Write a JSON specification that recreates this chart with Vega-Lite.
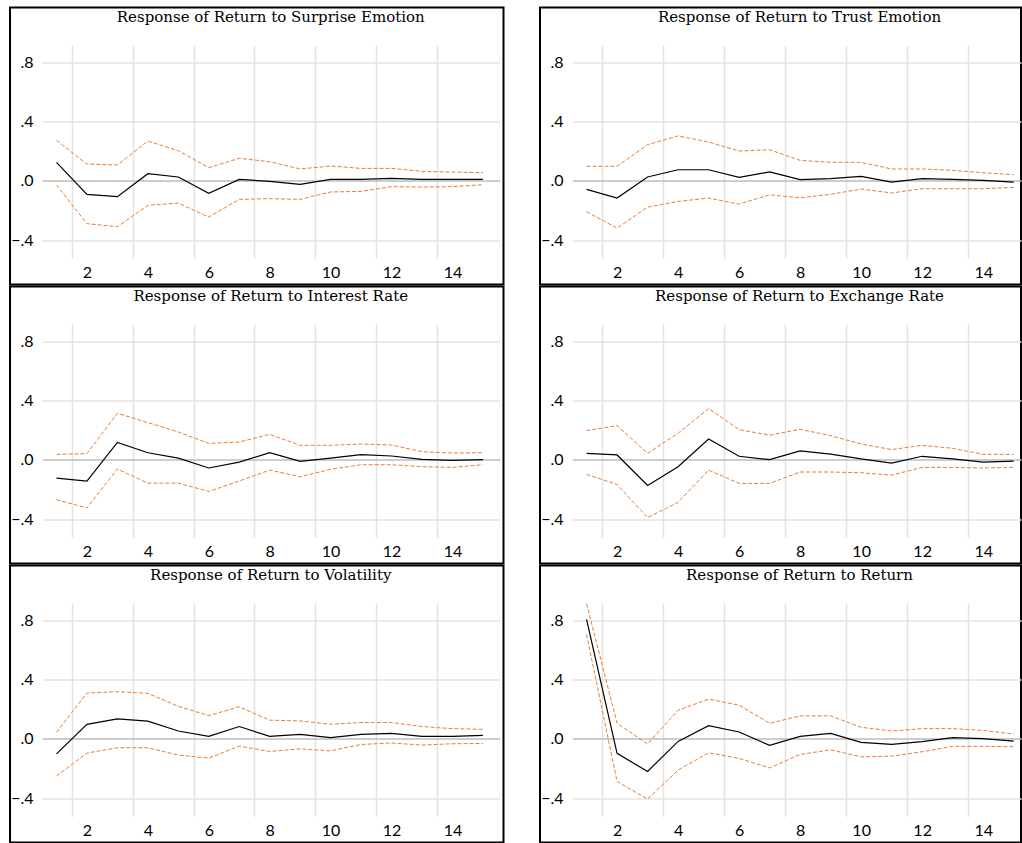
{
"$schema": "https://vega.github.io/schema/vega-lite/v6.json",
"padding": {"left": 9, "top": 6.5, "right": 0, "bottom": 0},
"background": "white",
"columns": 2,
"spacing": {"row": 0, "column": 34},
"data": {"values": [
{"p":"S","h":1,"irf":0.124,"lo":-0.029,"hi":0.272},
{"p":"S","h":2,"irf":-0.092,"lo":-0.290,"hi":0.112},
{"p":"S","h":3,"irf":-0.108,"lo":-0.310,"hi":0.106},
{"p":"S","h":4,"irf":0.047,"lo":-0.166,"hi":0.267},
{"p":"S","h":5,"irf":0.025,"lo":-0.151,"hi":0.202},
{"p":"S","h":6,"irf":-0.085,"lo":-0.245,"hi":0.088},
{"p":"S","h":7,"irf":0.009,"lo":-0.126,"hi":0.151},
{"p":"S","h":8,"irf":-0.004,"lo":-0.121,"hi":0.128},
{"p":"S","h":9,"irf":-0.025,"lo":-0.126,"hi":0.079},
{"p":"S","h":10,"irf":0.009,"lo":-0.076,"hi":0.099},
{"p":"S","h":11,"irf":0.009,"lo":-0.072,"hi":0.083},
{"p":"S","h":12,"irf":0.016,"lo":-0.040,"hi":0.083},
{"p":"S","h":13,"irf":0.009,"lo":-0.043,"hi":0.063},
{"p":"S","h":14,"irf":0.009,"lo":-0.040,"hi":0.058},
{"p":"S","h":15,"irf":0.009,"lo":-0.027,"hi":0.054},
{"p":"T","h":1,"irf":-0.059,"lo":-0.209,"hi":0.097},
{"p":"T","h":2,"irf":-0.117,"lo":-0.320,"hi":0.097},
{"p":"T","h":3,"irf":0.025,"lo":-0.178,"hi":0.243},
{"p":"T","h":4,"irf":0.074,"lo":-0.140,"hi":0.302},
{"p":"T","h":5,"irf":0.074,"lo":-0.117,"hi":0.261},
{"p":"T","h":6,"irf":0.023,"lo":-0.158,"hi":0.200},
{"p":"T","h":7,"irf":0.059,"lo":-0.095,"hi":0.209},
{"p":"T","h":8,"irf":0.007,"lo":-0.115,"hi":0.137},
{"p":"T","h":9,"irf":0.014,"lo":-0.092,"hi":0.124},
{"p":"T","h":10,"irf":0.029,"lo":-0.056,"hi":0.124},
{"p":"T","h":11,"irf":-0.009,"lo":-0.083,"hi":0.079},
{"p":"T","h":12,"irf":0.014,"lo":-0.054,"hi":0.079},
{"p":"T","h":13,"irf":0.009,"lo":-0.054,"hi":0.070},
{"p":"T","h":14,"irf":0.002,"lo":-0.054,"hi":0.054},
{"p":"T","h":15,"irf":-0.009,"lo":-0.045,"hi":0.041},
{"p":"I","h":1,"irf":-0.124,"lo":-0.270,"hi":0.036},
{"p":"I","h":2,"irf":-0.144,"lo":-0.325,"hi":0.041},
{"p":"I","h":3,"irf":0.117,"lo":-0.063,"hi":0.313},
{"p":"I","h":4,"irf":0.047,"lo":-0.158,"hi":0.250},
{"p":"I","h":5,"irf":0.011,"lo":-0.158,"hi":0.187},
{"p":"I","h":6,"irf":-0.056,"lo":-0.214,"hi":0.110},
{"p":"I","h":7,"irf":-0.016,"lo":-0.144,"hi":0.119},
{"p":"I","h":8,"irf":0.047,"lo":-0.070,"hi":0.171},
{"p":"I","h":9,"irf":-0.011,"lo":-0.115,"hi":0.097},
{"p":"I","h":10,"irf":0.011,"lo":-0.065,"hi":0.097},
{"p":"I","h":11,"irf":0.034,"lo":-0.034,"hi":0.106},
{"p":"I","h":12,"irf":0.025,"lo":-0.034,"hi":0.099},
{"p":"I","h":13,"irf":0.002,"lo":-0.047,"hi":0.054},
{"p":"I","h":14,"irf":-0.005,"lo":-0.052,"hi":0.045},
{"p":"I","h":15,"irf":0.000,"lo":-0.034,"hi":0.047},
{"p":"X","h":1,"irf":0.043,"lo":-0.099,"hi":0.196},
{"p":"X","h":2,"irf":0.032,"lo":-0.167,"hi":0.230},
{"p":"X","h":3,"irf":-0.174,"lo":-0.390,"hi":0.043},
{"p":"X","h":4,"irf":-0.047,"lo":-0.288,"hi":0.178},
{"p":"X","h":5,"irf":0.140,"lo":-0.070,"hi":0.345},
{"p":"X","h":6,"irf":0.023,"lo":-0.160,"hi":0.203},
{"p":"X","h":7,"irf":0.000,"lo":-0.160,"hi":0.165},
{"p":"X","h":8,"irf":0.059,"lo":-0.083,"hi":0.205},
{"p":"X","h":9,"irf":0.038,"lo":-0.083,"hi":0.162},
{"p":"X","h":10,"irf":0.005,"lo":-0.088,"hi":0.106},
{"p":"X","h":11,"irf":-0.023,"lo":-0.104,"hi":0.068},
{"p":"X","h":12,"irf":0.023,"lo":-0.052,"hi":0.097},
{"p":"X","h":13,"irf":0.005,"lo":-0.052,"hi":0.077},
{"p":"X","h":14,"irf":-0.016,"lo":-0.056,"hi":0.036},
{"p":"X","h":15,"irf":-0.009,"lo":-0.052,"hi":0.036},
{"p":"V","h":1,"irf":-0.102,"lo":-0.252,"hi":0.043},
{"p":"V","h":2,"irf":0.097,"lo":-0.097,"hi":0.308},
{"p":"V","h":3,"irf":0.134,"lo":-0.061,"hi":0.317},
{"p":"V","h":4,"irf":0.118,"lo":-0.061,"hi":0.306},
{"p":"V","h":5,"irf":0.052,"lo":-0.111,"hi":0.218},
{"p":"V","h":6,"irf":0.016,"lo":-0.131,"hi":0.156},
{"p":"V","h":7,"irf":0.082,"lo":-0.050,"hi":0.215},
{"p":"V","h":8,"irf":0.016,"lo":-0.086,"hi":0.125},
{"p":"V","h":9,"irf":0.029,"lo":-0.068,"hi":0.120},
{"p":"V","h":10,"irf":0.007,"lo":-0.082,"hi":0.097},
{"p":"V","h":11,"irf":0.029,"lo":-0.039,"hi":0.109},
{"p":"V","h":12,"irf":0.036,"lo":-0.029,"hi":0.109},
{"p":"V","h":13,"irf":0.016,"lo":-0.043,"hi":0.082},
{"p":"V","h":14,"irf":0.016,"lo":-0.034,"hi":0.068},
{"p":"V","h":15,"irf":0.023,"lo":-0.032,"hi":0.063},
{"p":"R","h":1,"irf":0.805,"lo":0.703,"hi":0.911},
{"p":"R","h":2,"irf":-0.099,"lo":-0.289,"hi":0.104},
{"p":"R","h":3,"irf":-0.221,"lo":-0.407,"hi":-0.036},
{"p":"R","h":4,"irf":-0.018,"lo":-0.212,"hi":0.192},
{"p":"R","h":5,"irf":0.088,"lo":-0.095,"hi":0.267},
{"p":"R","h":6,"irf":0.045,"lo":-0.133,"hi":0.226},
{"p":"R","h":7,"irf":-0.045,"lo":-0.197,"hi":0.104},
{"p":"R","h":8,"irf":0.016,"lo":-0.106,"hi":0.154},
{"p":"R","h":9,"irf":0.036,"lo":-0.075,"hi":0.154},
{"p":"R","h":10,"irf":-0.025,"lo":-0.122,"hi":0.077},
{"p":"R","h":11,"irf":-0.038,"lo":-0.118,"hi":0.052},
{"p":"R","h":12,"irf":-0.020,"lo":-0.088,"hi":0.068},
{"p":"R","h":13,"irf":0.007,"lo":-0.052,"hi":0.068},
{"p":"R","h":14,"irf":0.000,"lo":-0.052,"hi":0.056},
{"p":"R","h":15,"irf":-0.016,"lo":-0.054,"hi":0.032}
]},
"concat": [
{
"width": 493.5, "height": 277,
"title": {"text": "Response of Return to Surprise Emotion", "dx": 14},
"transform": [{"filter": "datum.p === 'S'"}],
"layer": [
{"mark": {"type": "line", "color": "#ED7D31", "strokeWidth": 1, "strokeDash": [4, 2]},
"encoding": {
"x": {"field": "h", "type": "quantitative", "scale": {"domain": [-0.526, 15.676], "nice": false, "zero": false}, "axis": {"orient": "bottom", "values": [1.5, 3.5, 5.5, 7.5, 9.5, 11.5, 13.5], "offset": -26.2, "tickSize": -213.3, "tickColor": "#e3e3e3", "tickWidth": 1.5, "labels": false, "domain": false, "grid": false, "title": null}},
"y": {"field": "lo", "type": "quantitative", "scale": {"domain": [-0.7, 1.168], "nice": false, "zero": false}, "axis": {"orient": "left", "values": [-0.4, 0, 0.4, 0.8], "offset": -32.4, "tickSize": -457.3, "tickColor": {"condition": {"test": "datum.value === 0", "value": "#bcbcbc"}, "value": "#e3e3e3"}, "tickWidth": 1.5, "labels": false, "domain": false, "grid": false, "title": null}}
}},
{"mark": {"type": "line", "color": "#ED7D31", "strokeWidth": 1, "strokeDash": [4, 2]},
"encoding": {
"x": {"field": "h", "type": "quantitative", "scale": {"domain": [-0.526, 15.676], "nice": false, "zero": false}, "axis": null},
"y": {"field": "hi", "type": "quantitative", "scale": {"domain": [-0.7, 1.168], "nice": false, "zero": false}, "axis": null}
}},
{"mark": {"type": "line", "color": "black", "strokeWidth": 1.2},
"encoding": {
"x": {"field": "h", "type": "quantitative", "scale": {"domain": [-0.526, 15.676], "nice": false, "zero": false}, "axis": {"orient": "bottom", "values": [2, 4, 6, 8, 10, 12, 14], "format": "d", "offset": -12, "ticks": false, "domain": false, "grid": false, "labelPadding": 0, "labelBaseline": "middle", "labelFlush": false, "labelOverlap": false, "title": null}},
"y": {"field": "irf", "type": "quantitative", "scale": {"domain": [-0.7, 1.168], "nice": false, "zero": false}, "axis": {"orient": "left", "values": [-0.4, 0, 0.4, 0.8], "labelExpr": "replace(format(datum.value, '.1f'), '0.', '.')", "offset": -23, "ticks": false, "domain": false, "grid": false, "labelPadding": 0, "labelFlush": false, "labelOverlap": false, "title": null}}
}}
],
"resolve": {"axis": {"x": "independent", "y": "independent"}}
},
{
"width": 481, "height": 277,
"title": {"text": "Response of Return to Trust Emotion", "dx": 19},
"transform": [{"filter": "datum.p === 'T'"}],
"layer": [
{"mark": {"type": "line", "color": "#ED7D31", "strokeWidth": 1, "strokeDash": [4, 2]},
"encoding": {
"x": {"field": "h", "type": "quantitative", "scale": {"domain": [-0.526, 15.24], "nice": false, "zero": false}, "axis": {"orient": "bottom", "values": [1.5, 3.5, 5.5, 7.5, 9.5, 11.5, 13.5], "offset": -26.2, "tickSize": -213.3, "tickColor": "#e3e3e3", "tickWidth": 1.5, "labels": false, "domain": false, "grid": false, "title": null}},
"y": {"field": "lo", "type": "quantitative", "scale": {"domain": [-0.7, 1.168], "nice": false, "zero": false}, "axis": {"orient": "left", "values": [-0.4, 0, 0.4, 0.8], "offset": -32.4, "tickSize": -448.6, "tickColor": {"condition": {"test": "datum.value === 0", "value": "#bcbcbc"}, "value": "#e3e3e3"}, "tickWidth": 1.5, "labels": false, "domain": false, "grid": false, "title": null}}
}},
{"mark": {"type": "line", "color": "#ED7D31", "strokeWidth": 1, "strokeDash": [4, 2]},
"encoding": {
"x": {"field": "h", "type": "quantitative", "scale": {"domain": [-0.526, 15.24], "nice": false, "zero": false}, "axis": null},
"y": {"field": "hi", "type": "quantitative", "scale": {"domain": [-0.7, 1.168], "nice": false, "zero": false}, "axis": null}
}},
{"mark": {"type": "line", "color": "black", "strokeWidth": 1.2},
"encoding": {
"x": {"field": "h", "type": "quantitative", "scale": {"domain": [-0.526, 15.24], "nice": false, "zero": false}, "axis": {"orient": "bottom", "values": [2, 4, 6, 8, 10, 12, 14], "format": "d", "offset": -12, "ticks": false, "domain": false, "grid": false, "labelPadding": 0, "labelBaseline": "middle", "labelFlush": false, "labelOverlap": false, "title": null}},
"y": {"field": "irf", "type": "quantitative", "scale": {"domain": [-0.7, 1.168], "nice": false, "zero": false}, "axis": {"orient": "left", "values": [-0.4, 0, 0.4, 0.8], "labelExpr": "replace(format(datum.value, '.1f'), '0.', '.')", "offset": -23, "ticks": false, "domain": false, "grid": false, "labelPadding": 0, "labelFlush": false, "labelOverlap": false, "title": null}}
}}
],
"resolve": {"axis": {"x": "independent", "y": "independent"}}
},
{
"width": 493.5, "height": 277,
"title": {"text": "Response of Return to Interest Rate", "dx": 14},
"transform": [{"filter": "datum.p === 'I'"}],
"layer": [
{"mark": {"type": "line", "color": "#ED7D31", "strokeWidth": 1, "strokeDash": [4, 2]},
"encoding": {
"x": {"field": "h", "type": "quantitative", "scale": {"domain": [-0.526, 15.676], "nice": false, "zero": false}, "axis": {"orient": "bottom", "values": [1.5, 3.5, 5.5, 7.5, 9.5, 11.5, 13.5], "offset": -26.2, "tickSize": -213.3, "tickColor": "#e3e3e3", "tickWidth": 1.5, "labels": false, "domain": false, "grid": false, "title": null}},
"y": {"field": "lo", "type": "quantitative", "scale": {"domain": [-0.7, 1.168], "nice": false, "zero": false}, "axis": {"orient": "left", "values": [-0.4, 0, 0.4, 0.8], "offset": -32.4, "tickSize": -457.3, "tickColor": {"condition": {"test": "datum.value === 0", "value": "#bcbcbc"}, "value": "#e3e3e3"}, "tickWidth": 1.5, "labels": false, "domain": false, "grid": false, "title": null}}
}},
{"mark": {"type": "line", "color": "#ED7D31", "strokeWidth": 1, "strokeDash": [4, 2]},
"encoding": {
"x": {"field": "h", "type": "quantitative", "scale": {"domain": [-0.526, 15.676], "nice": false, "zero": false}, "axis": null},
"y": {"field": "hi", "type": "quantitative", "scale": {"domain": [-0.7, 1.168], "nice": false, "zero": false}, "axis": null}
}},
{"mark": {"type": "line", "color": "black", "strokeWidth": 1.2},
"encoding": {
"x": {"field": "h", "type": "quantitative", "scale": {"domain": [-0.526, 15.676], "nice": false, "zero": false}, "axis": {"orient": "bottom", "values": [2, 4, 6, 8, 10, 12, 14], "format": "d", "offset": -12, "ticks": false, "domain": false, "grid": false, "labelPadding": 0, "labelBaseline": "middle", "labelFlush": false, "labelOverlap": false, "title": null}},
"y": {"field": "irf", "type": "quantitative", "scale": {"domain": [-0.7, 1.168], "nice": false, "zero": false}, "axis": {"orient": "left", "values": [-0.4, 0, 0.4, 0.8], "labelExpr": "replace(format(datum.value, '.1f'), '0.', '.')", "offset": -23, "ticks": false, "domain": false, "grid": false, "labelPadding": 0, "labelFlush": false, "labelOverlap": false, "title": null}}
}}
],
"resolve": {"axis": {"x": "independent", "y": "independent"}}
},
{
"width": 481, "height": 277,
"title": {"text": "Response of Return to Exchange Rate", "dx": 19},
"transform": [{"filter": "datum.p === 'X'"}],
"layer": [
{"mark": {"type": "line", "color": "#ED7D31", "strokeWidth": 1, "strokeDash": [4, 2]},
"encoding": {
"x": {"field": "h", "type": "quantitative", "scale": {"domain": [-0.526, 15.24], "nice": false, "zero": false}, "axis": {"orient": "bottom", "values": [1.5, 3.5, 5.5, 7.5, 9.5, 11.5, 13.5], "offset": -26.2, "tickSize": -213.3, "tickColor": "#e3e3e3", "tickWidth": 1.5, "labels": false, "domain": false, "grid": false, "title": null}},
"y": {"field": "lo", "type": "quantitative", "scale": {"domain": [-0.7, 1.168], "nice": false, "zero": false}, "axis": {"orient": "left", "values": [-0.4, 0, 0.4, 0.8], "offset": -32.4, "tickSize": -448.6, "tickColor": {"condition": {"test": "datum.value === 0", "value": "#bcbcbc"}, "value": "#e3e3e3"}, "tickWidth": 1.5, "labels": false, "domain": false, "grid": false, "title": null}}
}},
{"mark": {"type": "line", "color": "#ED7D31", "strokeWidth": 1, "strokeDash": [4, 2]},
"encoding": {
"x": {"field": "h", "type": "quantitative", "scale": {"domain": [-0.526, 15.24], "nice": false, "zero": false}, "axis": null},
"y": {"field": "hi", "type": "quantitative", "scale": {"domain": [-0.7, 1.168], "nice": false, "zero": false}, "axis": null}
}},
{"mark": {"type": "line", "color": "black", "strokeWidth": 1.2},
"encoding": {
"x": {"field": "h", "type": "quantitative", "scale": {"domain": [-0.526, 15.24], "nice": false, "zero": false}, "axis": {"orient": "bottom", "values": [2, 4, 6, 8, 10, 12, 14], "format": "d", "offset": -12, "ticks": false, "domain": false, "grid": false, "labelPadding": 0, "labelBaseline": "middle", "labelFlush": false, "labelOverlap": false, "title": null}},
"y": {"field": "irf", "type": "quantitative", "scale": {"domain": [-0.7, 1.168], "nice": false, "zero": false}, "axis": {"orient": "left", "values": [-0.4, 0, 0.4, 0.8], "labelExpr": "replace(format(datum.value, '.1f'), '0.', '.')", "offset": -23, "ticks": false, "domain": false, "grid": false, "labelPadding": 0, "labelFlush": false, "labelOverlap": false, "title": null}}
}}
],
"resolve": {"axis": {"x": "independent", "y": "independent"}}
},
{
"width": 493.5, "height": 277,
"title": {"text": "Response of Return to Volatility", "dx": 14},
"transform": [{"filter": "datum.p === 'V'"}],
"layer": [
{"mark": {"type": "line", "color": "#ED7D31", "strokeWidth": 1, "strokeDash": [4, 2]},
"encoding": {
"x": {"field": "h", "type": "quantitative", "scale": {"domain": [-0.526, 15.676], "nice": false, "zero": false}, "axis": {"orient": "bottom", "values": [1.5, 3.5, 5.5, 7.5, 9.5, 11.5, 13.5], "offset": -26.2, "tickSize": -213.3, "tickColor": "#e3e3e3", "tickWidth": 1.5, "labels": false, "domain": false, "grid": false, "title": null}},
"y": {"field": "lo", "type": "quantitative", "scale": {"domain": [-0.7, 1.168], "nice": false, "zero": false}, "axis": {"orient": "left", "values": [-0.4, 0, 0.4, 0.8], "offset": -32.4, "tickSize": -457.3, "tickColor": {"condition": {"test": "datum.value === 0", "value": "#bcbcbc"}, "value": "#e3e3e3"}, "tickWidth": 1.5, "labels": false, "domain": false, "grid": false, "title": null}}
}},
{"mark": {"type": "line", "color": "#ED7D31", "strokeWidth": 1, "strokeDash": [4, 2]},
"encoding": {
"x": {"field": "h", "type": "quantitative", "scale": {"domain": [-0.526, 15.676], "nice": false, "zero": false}, "axis": null},
"y": {"field": "hi", "type": "quantitative", "scale": {"domain": [-0.7, 1.168], "nice": false, "zero": false}, "axis": null}
}},
{"mark": {"type": "line", "color": "black", "strokeWidth": 1.2},
"encoding": {
"x": {"field": "h", "type": "quantitative", "scale": {"domain": [-0.526, 15.676], "nice": false, "zero": false}, "axis": {"orient": "bottom", "values": [2, 4, 6, 8, 10, 12, 14], "format": "d", "offset": -12, "ticks": false, "domain": false, "grid": false, "labelPadding": 0, "labelBaseline": "middle", "labelFlush": false, "labelOverlap": false, "title": null}},
"y": {"field": "irf", "type": "quantitative", "scale": {"domain": [-0.7, 1.168], "nice": false, "zero": false}, "axis": {"orient": "left", "values": [-0.4, 0, 0.4, 0.8], "labelExpr": "replace(format(datum.value, '.1f'), '0.', '.')", "offset": -23, "ticks": false, "domain": false, "grid": false, "labelPadding": 0, "labelFlush": false, "labelOverlap": false, "title": null}}
}}
],
"resolve": {"axis": {"x": "independent", "y": "independent"}}
},
{
"width": 481, "height": 277,
"title": {"text": "Response of Return to Return", "dx": 19},
"transform": [{"filter": "datum.p === 'R'"}],
"layer": [
{"mark": {"type": "line", "color": "#ED7D31", "strokeWidth": 1, "strokeDash": [4, 2]},
"encoding": {
"x": {"field": "h", "type": "quantitative", "scale": {"domain": [-0.526, 15.24], "nice": false, "zero": false}, "axis": {"orient": "bottom", "values": [1.5, 3.5, 5.5, 7.5, 9.5, 11.5, 13.5], "offset": -26.2, "tickSize": -213.3, "tickColor": "#e3e3e3", "tickWidth": 1.5, "labels": false, "domain": false, "grid": false, "title": null}},
"y": {"field": "lo", "type": "quantitative", "scale": {"domain": [-0.7, 1.168], "nice": false, "zero": false}, "axis": {"orient": "left", "values": [-0.4, 0, 0.4, 0.8], "offset": -32.4, "tickSize": -448.6, "tickColor": {"condition": {"test": "datum.value === 0", "value": "#bcbcbc"}, "value": "#e3e3e3"}, "tickWidth": 1.5, "labels": false, "domain": false, "grid": false, "title": null}}
}},
{"mark": {"type": "line", "color": "#ED7D31", "strokeWidth": 1, "strokeDash": [4, 2]},
"encoding": {
"x": {"field": "h", "type": "quantitative", "scale": {"domain": [-0.526, 15.24], "nice": false, "zero": false}, "axis": null},
"y": {"field": "hi", "type": "quantitative", "scale": {"domain": [-0.7, 1.168], "nice": false, "zero": false}, "axis": null}
}},
{"mark": {"type": "line", "color": "black", "strokeWidth": 1.2},
"encoding": {
"x": {"field": "h", "type": "quantitative", "scale": {"domain": [-0.526, 15.24], "nice": false, "zero": false}, "axis": {"orient": "bottom", "values": [2, 4, 6, 8, 10, 12, 14], "format": "d", "offset": -12, "ticks": false, "domain": false, "grid": false, "labelPadding": 0, "labelBaseline": "middle", "labelFlush": false, "labelOverlap": false, "title": null}},
"y": {"field": "irf", "type": "quantitative", "scale": {"domain": [-0.7, 1.168], "nice": false, "zero": false}, "axis": {"orient": "left", "values": [-0.4, 0, 0.4, 0.8], "labelExpr": "replace(format(datum.value, '.1f'), '0.', '.')", "offset": -23, "ticks": false, "domain": false, "grid": false, "labelPadding": 0, "labelFlush": false, "labelOverlap": false, "title": null}}
}}
],
"resolve": {"axis": {"x": "independent", "y": "independent"}}
}
],
"config": {
"view": {"stroke": "black", "strokeWidth": 2},
"title": {"font": "DejaVu Serif", "fontSize": 15, "fontWeight": "normal", "color": "black", "anchor": "middle", "offset": -17.5, "baseline": "alphabetic"},
"axis": {"labelFont": "Lato", "labelFontSize": 16, "labelColor": "black"}
}
}
